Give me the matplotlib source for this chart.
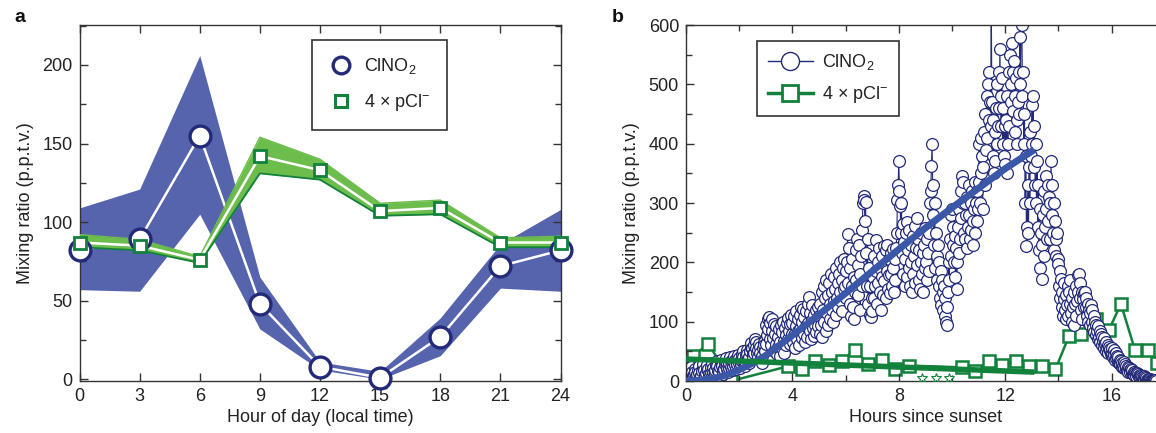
import numpy as np
import matplotlib
matplotlib.use("Agg")
import matplotlib.pyplot as plt
from matplotlib.ticker import MultipleLocator
from matplotlib.lines import Line2D

plt.rcParams['font.family'] = ['Liberation Sans', 'DejaVu Sans']
plt.rcParams['mathtext.fontset'] = 'custom'
plt.rcParams['mathtext.rm'] = 'Liberation Sans'
plt.rcParams['mathtext.it'] = 'Liberation Sans'

# ---------------- Panel a data ----------------
hours_a = [0, 3, 6, 9, 12, 15, 18, 21, 24]
clno2_a = [82, 89, 155, 48, 8, 1, 27, 72, 82]
clno2_a_hi = [109, 121, 206, 65, 11, 5, 39, 86, 108]
clno2_a_lo = [57, 56, 105, 32, 6, 0, 15, 58, 56]
pcl_a = [87, 85, 76, 142, 133, 107, 109, 87, 87]
pcl_a_hi = [92, 89, 78, 154, 140, 112, 114, 90, 91]
pcl_a_lo = [84, 82, 74, 131, 127, 104, 105, 84, 84]

# ---------------- Panel b data ----------------
# ClNO2 readings, one list per hour since sunset, evenly spaced within the hour
clno2_b_h0 = [8, 14, 20, 12, 6, 3, 10, 18, 24, 16, 9, 5, 12, 20, 15, 8, 4, 11, 19, 25,
              14, 7, 3, 9, 17, 23, 28, 18, 10, 6, 13, 21, 27, 20, 12, 5, 9, 16, 24, 30]
clno2_b_h1 = [22, 14, 8, 12, 19, 27, 33, 25, 17, 10, 15, 23, 30, 35, 26, 18, 12, 20, 28, 34,
              38, 29, 21, 15, 22, 31, 40, 33, 24, 18, 25, 34, 42, 36, 27, 20, 28, 37, 44, 39]
clno2_b_h2 = [30, 22, 28, 36, 45, 50, 41, 32, 25, 34, 44, 52, 46, 37, 30, 40, 50, 58, 64, 55,
              45, 38, 48, 60, 70, 66, 56, 47, 40, 52, 63, 58, 48, 39, 30, 42, 55, 66, 60, 50]
clno2_b_h3 = [62, 95, 78, 105, 88, 108, 70, 98, 60, 104, 85, 72, 96, 50, 80, 62, 92, 45, 75, 58,
              88, 42, 66, 95, 55, 82, 100, 68, 48, 90, 60, 78, 98, 70, 106, 85, 62, 96, 111, 80]
clno2_b_h4 = [98, 65, 110, 78, 55, 92, 118, 70, 104, 85, 60, 112, 88, 125, 72, 100, 122, 80, 108, 66,
              92, 118, 75, 130, 98, 142, 85, 115, 70, 102, 128, 90, 76, 112, 95, 120, 82, 105, 125, 92]
clno2_b_h5 = [110, 80, 130, 95, 150, 75, 120, 160, 100, 140, 85, 170, 115, 145, 95, 165, 130, 105, 180, 120,
              150, 100, 175, 135, 155, 112, 190, 140, 165, 125, 180, 150, 200, 135, 170, 118, 190, 155, 205, 160]
clno2_b_h6 = [185, 140, 200, 248, 165, 225, 130, 190, 110, 160, 205, 125, 175, 104, 150, 220, 170, 240, 195, 145,
              230, 180, 120, 210, 160, 255, 300, 312, 305, 270, 302, 215, 160, 240, 130, 190, 112, 160, 108, 140]
clno2_b_h7 = [118, 175, 140, 210, 160, 238, 185, 130, 200, 165, 225, 150, 190, 120, 210, 175, 145, 228, 168, 198,
              140, 220, 185, 230, 155, 205, 178, 148, 215, 180, 160, 222, 190, 150, 205, 170, 225, 250, 305, 330]
clno2_b_h8 = [370, 320, 295, 250, 300, 215, 265, 180, 235, 160, 205, 250, 175, 268, 220, 190, 255, 160, 230, 200,
              150, 245, 180, 210, 165, 262, 225, 275, 195, 240, 170, 220, 155, 200, 250, 180, 215, 150, 230, 190]
clno2_b_h9 = [258, 200, 240, 170, 215, 185, 250, 300, 320, 362, 400, 330, 280, 230, 300, 190, 250, 210, 170, 230,
              160, 200, 140, 185, 128, 170, 150, 120, 160, 110, 140, 100, 125, 95, 150, 200, 170, 240, 210, 280]
clno2_b_h10 = [290, 230, 260, 200, 245, 175, 225, 155, 200, 260, 215, 290, 240, 320, 275, 345, 300, 335, 250, 300,
               240, 280, 225, 310, 260, 330, 280, 240, 300, 255, 320, 270, 230, 290, 250, 335, 300, 270, 320, 290]
clno2_b_h11 = [335, 400, 300, 410, 350, 380, 290, 360, 420, 330, 450, 390, 480, 410, 500, 440, 520, 470, 430, 650,
               470, 380, 440, 350, 420, 370, 460, 400, 500, 430, 520, 460, 560, 480, 430, 510, 400, 460, 380, 430]
clno2_b_h12 = [365, 440, 350, 480, 400, 520, 430, 550, 470, 500, 570, 520, 455, 540, 480, 420, 510, 440, 400, 470,
               520, 450, 580, 500, 640, 600, 480, 520, 400, 450, 300, 380, 228, 260, 330, 250, 360, 300, 420, 380]
clno2_b_h13 = [465, 400, 480, 360, 430, 330, 400, 300, 370, 260, 330, 220, 290, 190, 250, 172, 230, 280, 210, 320,
               260, 345, 290, 240, 330, 270, 310, 240, 300, 370, 280, 330, 250, 300, 220, 270, 240, 210, 250, 205]
clno2_b_h14 = [198, 160, 185, 140, 172, 125, 150, 110, 138, 165, 120, 104, 145, 128, 160, 110, 150, 130, 170, 115,
               140, 100, 125, 150, 94, 130, 110, 160, 135, 178, 150, 180, 140, 165, 120, 150, 105, 138, 125, 148]
clno2_b_h15 = [150, 125, 140, 110, 130, 100, 120, 95, 115, 128, 100, 120, 90, 110, 82, 100, 78, 95, 85, 70,
               92, 75, 85, 65, 80, 60, 75, 68, 55, 72, 62, 50, 66, 55, 60, 48, 58, 50, 54, 45]
clno2_b_h16 = [46, 56, 40, 52, 44, 36, 48, 38, 42, 32, 40, 30, 36, 28, 34, 24, 30, 26, 32, 22,
               28, 20, 26, 18, 24, 16, 22, 18, 15, 20, 14, 18, 12, 16, 10, 14, 12, 9, 13, 10]
clno2_b_h17 = [12, 8, 10, 6, 9, 5, 7, 4, 8, 3, 6, 3, 5, 2, 4, 2, 3, 1, 3, 1,
               2, 1, 2, 0, 1, 0, 1, 0]
clno2_b_hours = [clno2_b_h0, clno2_b_h1, clno2_b_h2, clno2_b_h3, clno2_b_h4, clno2_b_h5,
                 clno2_b_h6, clno2_b_h7, clno2_b_h8, clno2_b_h9, clno2_b_h10, clno2_b_h11,
                 clno2_b_h12, clno2_b_h13, clno2_b_h14, clno2_b_h15, clno2_b_h16, clno2_b_h17]
samples_per_hour = 40

fit_clno2_x = [0, 0.5, 1, 1.5, 2, 2.5, 3, 3.5, 4, 5, 6, 7, 8, 9, 10, 11, 12, 13.1]
fit_clno2_y = [0, 1, 4, 10, 19, 30, 43, 60, 77, 112, 148, 185, 222, 258, 292, 325, 358, 390]

pcl_b_x = [0.27, 0.84, 1.7, 3.85, 4.35, 4.86, 5.36, 5.86, 6.34, 6.86, 7.36, 7.87, 8.37,
           10.37, 10.88, 11.38, 11.88, 12.39, 12.91, 13.39, 13.89, 14.4, 14.85, 15.4,
           15.9, 16.35, 16.88, 17.38, 17.7]
pcl_b_y = [42, 63, 0, 25, 20, 33, 27, 34, 53, 28, 35, 20, 26,
           23, 17, 34, 27, 34, 26, 26, 20, 76, 80, 104,
           86, 130, 52, 53, 30]
pcl_star_x = [8.87, 9.38, 9.87]
pcl_star_y = [5, 5, 5]
fit_pcl_x = [0, 13.1]
fit_pcl_y = [37, 15]

# ---------------- styling ----------------
navy = '#232a78'
band_blue = '#5663ad'
fit_blue = '#3a57a8'
green_dark = '#11813c'
green_light = '#6cbd4c'
txt = '#222222'
spine_c = '#333333'

W, H = 1156, 433
fig = plt.figure(figsize=(W / 100, H / 100), dpi=100)

ax_a = fig.add_axes([79.5 / W, 1 - 381 / H, 481 / W, 356 / H])
ax_b = fig.add_axes([686 / W, 1 - 381 / H, 18 * 26.6 / W, 356 / H])

def style_axes(ax):
    for s in ax.spines.values():
        s.set_color(spine_c)
        s.set_linewidth(1.0)
    ax.tick_params(which='both', direction='in', top=True, right=True,
                   colors=spine_c, labelcolor=txt, labelsize=13, width=1.0)
    ax.tick_params(which='major', length=6, pad=5)
    ax.tick_params(which='minor', length=4)

# ---- Panel a ----
ax_a.fill_between(hours_a, clno2_a_lo, clno2_a_hi, color=band_blue, lw=0, zorder=1)
ax_a.plot(hours_a, clno2_a, color='white', lw=1.8, zorder=2)
ax_a.fill_between(hours_a, pcl_a_lo, pcl_a_hi, color=green_light, lw=0, zorder=3)
ax_a.plot(hours_a, pcl_a_lo, color=green_dark, lw=1.3, zorder=3)
ax_a.plot(hours_a, pcl_a_hi, color=green_light, lw=1.0, zorder=3)
ax_a.plot(hours_a, pcl_a, color='white', lw=1.8, zorder=4)
ax_a.plot(hours_a, clno2_a, ls='none', marker='o', ms=15, mfc='white', mec=navy,
          mew=2.4, zorder=5, clip_on=False)
ax_a.plot(hours_a, pcl_a, ls='none', marker='s', ms=9, mfc='white', mec=green_dark,
          mew=2.0, zorder=6, clip_on=False)
ax_a.set_xlim(0, 24)
ax_a.set_ylim(-1.1, 225.4)
ax_a.xaxis.set_major_locator(MultipleLocator(3))
ax_a.yaxis.set_major_locator(MultipleLocator(50))
ax_a.yaxis.set_minor_locator(MultipleLocator(25))
style_axes(ax_a)
ax_a.set_xlabel('Hour of day (local time)', fontsize=13, color=txt, labelpad=3)
ax_a.set_ylabel('Mixing ratio (p.p.t.v.)', fontsize=13, color=txt, labelpad=6)

h1 = Line2D([], [], ls='none', marker='o', ms=12, mfc='white', mec=navy, mew=2.4)
h2 = Line2D([], [], ls='none', marker='s', ms=9, mfc='white', mec=green_dark, mew=2.2)
leg_a = ax_a.legend([h1, h2], [r'ClNO$_\mathregular{2}$', '4 × pCl$^{\\mathregular{−}}$'],
                    loc='upper left', bbox_to_anchor=(0.483, 0.958), fontsize=13,
                    frameon=True, fancybox=False, edgecolor='#333333', framealpha=1,
                    borderpad=0.9, labelspacing=0.9, handletextpad=0.6,
                    handlelength=1.4, borderaxespad=0)
leg_a.get_frame().set_linewidth(1.2)
for t in leg_a.get_texts():
    t.set_color(txt)

# ---- Panel b ----
t_b = []
v_b = []
for h, vals in enumerate(clno2_b_hours):
    for i, v in enumerate(vals):
        t_b.append(h + i / samples_per_hour)
        v_b.append(v)
ax_b.plot(pcl_b_x, pcl_b_y, color=green_dark, lw=1.8, marker='s', ms=8,
          mfc='white', mec=green_dark, mew=1.8, zorder=1.5)
ax_b.plot(t_b, v_b, color=navy, lw=0.8, marker='o', ms=8.5, mfc='white',
          mec=navy, mew=0.9, zorder=2)
ax_b.plot(pcl_star_x, pcl_star_y, ls='none', marker='*', ms=7, mfc='white',
          mec=green_dark, mew=0.8, zorder=3)
ax_b.plot(fit_clno2_x, fit_clno2_y, color=fit_blue, lw=5, solid_capstyle='butt', zorder=4)
ax_b.plot(fit_pcl_x, fit_pcl_y, color=green_dark, lw=4, solid_capstyle='butt', zorder=4)
ax_b.set_xlim(0, 18)
ax_b.set_ylim(0, 600)
ax_b.xaxis.set_major_locator(MultipleLocator(4))
ax_b.xaxis.set_minor_locator(MultipleLocator(2))
ax_b.yaxis.set_major_locator(MultipleLocator(100))
ax_b.yaxis.set_minor_locator(MultipleLocator(50))
style_axes(ax_b)
ax_b.spines['right'].set_visible(False)
ax_b.tick_params(which='both', right=False)
ax_b.set_xlabel('Hours since sunset', fontsize=13, color=txt, labelpad=3)
ax_b.set_ylabel('Mixing ratio (p.p.t.v.)', fontsize=13, color=txt, labelpad=6)

g1 = Line2D([], [], color=navy, lw=1.0, marker='o', ms=13, mfc='white', mec=navy, mew=1.0)
g2 = Line2D([], [], color=green_dark, lw=2.5, marker='s', ms=11, mfc='white', mec=green_dark, mew=2.0)
leg_b = ax_b.legend([g1, g2], [r'ClNO$_\mathregular{2}$', '4 × pCl$^{\\mathregular{−}}$'],
                    loc='upper left', bbox_to_anchor=(0.148, 0.955), fontsize=13,
                    frameon=True, fancybox=False, edgecolor='#333333', framealpha=1,
                    borderpad=0.6, labelspacing=0.7, handletextpad=0.5,
                    handlelength=2.5, borderaxespad=0)
leg_b.get_frame().set_linewidth(1.2)
for t in leg_b.get_texts():
    t.set_color(txt)

fig.text(14 / W, 1 - 18 / H, 'a', fontsize=14, fontweight='bold', va='center', ha='left', color='#111111')
fig.text(612 / W, 1 - 18 / H, 'b', fontsize=14, fontweight='bold', va='center', ha='left', color='#111111')

fig.savefig('out.png', dpi=100)
